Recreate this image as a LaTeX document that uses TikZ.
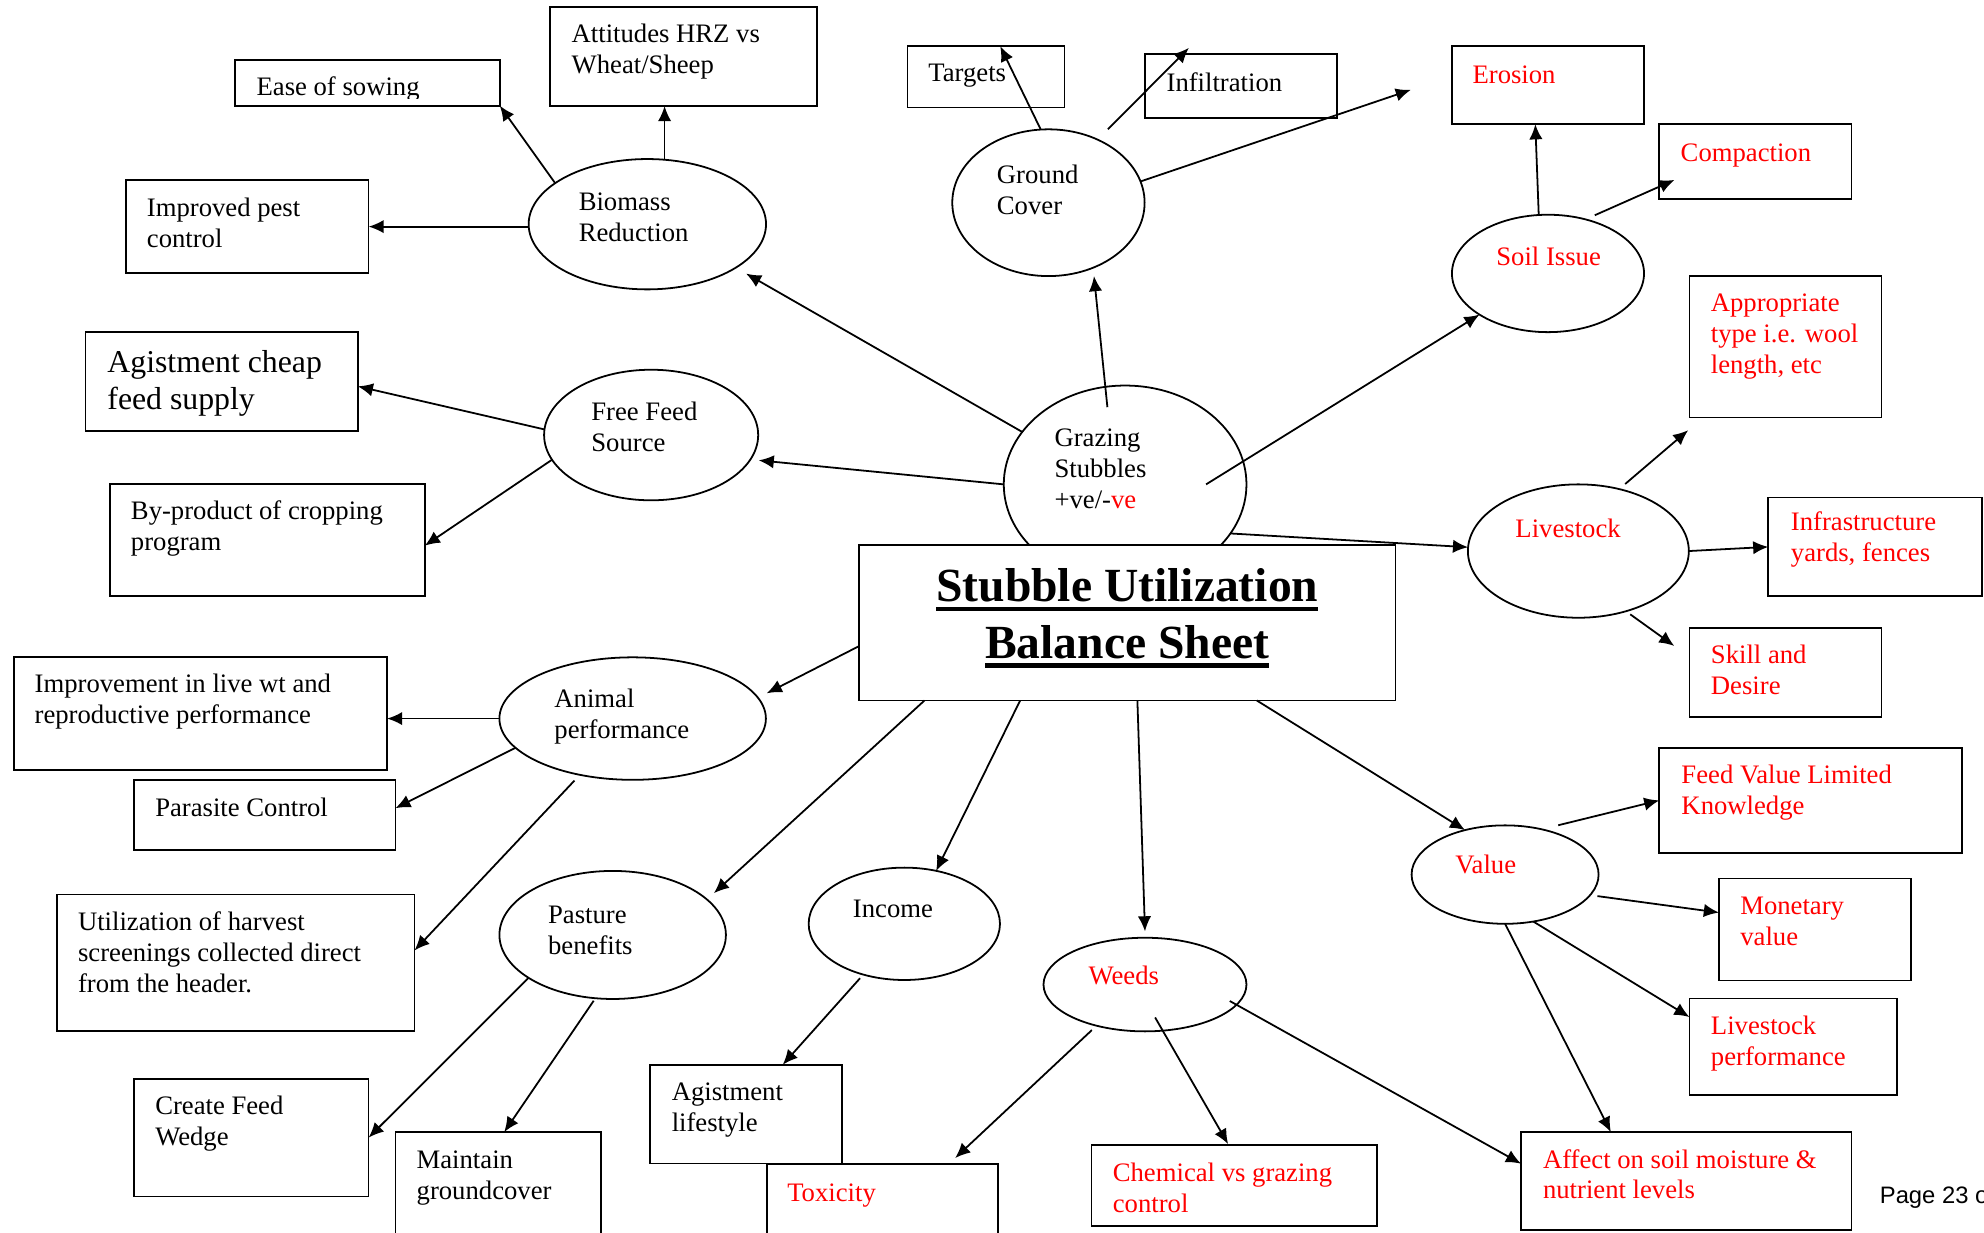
\documentclass[tikz,border=0pt]{standalone}
\usepackage{fontspec}
\setmainfont{Liberation Serif}
\newfontfamily\arial{Liberation Sans}
\usetikzlibrary{shapes.geometric,arrows.meta}
\newcommand{\subr}[1]{\setbox0=\hbox{#1}\rlap{\rule[-4.1pt]{\wd0}{2pt}}\box0}

\begin{document}
\begin{tikzpicture}[x=0.02cm, y=-0.02cm, line width=0.8pt,
	>={Latex[length=6.8pt,width=6pt]},
	caja/.style={draw, rectangle, anchor=north west, inner sep=0, outer sep=0},
	elipse/.style={draw, ellipse, inner sep=0, outer sep=0},
	txt/.style={anchor=north west, inner sep=0, align=left, font=\fontsize{12}{13.9}\selectfont, execute at begin node=\strut, yshift=9.73pt},
	txtg/.style={anchor=north west, inner sep=0, align=left, font=\fontsize{14.3}{16.5}\selectfont, execute at begin node=\strut, yshift=11.55pt},
	rojo/.style={text=red}]
	\def\unidad{0.02cm}
	\def\caja#1#2#3#4#5{\node[caja, minimum width={(#4-#2)*\unidad}, minimum height={(#5-#3)*\unidad}] (#1) at (#2,#3) {};}
	\def\elipse#1#2#3#4#5{\node[elipse, minimum width={2*#4*\unidad}, minimum height={2*#5*\unidad}] (#1) at (#2,#3) {};}
	
	\useasboundingbox (0,0) rectangle (1568,974);
	
	% Elipses
	\elipse{bio}{511.6}{177.2}{93.8}{51.5}
	\elipse{gc}{828.6}{160.2}{76}{58}
	\elipse{soil}{1223.4}{216.1}{75.9}{46.4}
	\elipse{ff}{514.6}{343.8}{84.6}{51.6}
	\elipse{graz}{889.2}{382.8}{95.9}{78.1}
	\elipse{live}{1247.4}{435.5}{87.3}{52.7}
	\elipse{animal}{500}{567.9}{105.3}{48.4}
	\elipse{value}{1189.5}{691.2}{73.9}{38.9}
	\elipse{pasture}{484.2}{738.9}{89.5}{50.6}
	\elipse{income}{714.7}{730.1}{75.6}{44.4}
	\elipse{weeds}{904.9}{778.1}{80.2}{37}
	
	% Cajas
	\caja{ease}{186}{47.5}{395}{83.5}
	\caja{att}{434.5}{5.3}{645.7}{83.8}
	\caja{targets}{717.2}{36.6}{841.3}{85}
	\caja{infil}{904.6}{42.8}{1056.9}{93.4}
	\caja{erosion}{1147.5}{36.6}{1299.3}{98.2}
	\caja{compact}{1311.4}{97.8}{1463.2}{157.2}
	\caja{pest}{99.3}{142.2}{291.3}{216}
	\caja{approp}{1335.2}{218.1}{1487}{330}
	\caja{agist}{67.5}{262.5}{282.8}{340.6}
	\caja{byprod}{86.7}{382.5}{335.7}{471.3}
	\caja{infra}{1397.5}{393.1}{1566.5}{471.3}
	\caja{skill}{1335.2}{496.5}{1487}{566.6}
	\caja{improv}{11.1}{519.4}{305.9}{608.3}
	\caja{parasite}{105.8}{616.6}{312.5}{671.7}
	\caja{feedval}{1311.4}{591.1}{1550.3}{674}
	\caja{monet}{1358.5}{694.3}{1510.3}{774.9}
	\caja{utiliz}{44.9}{707}{327.6}{815.1}
	\caja{lsperf}{1335.2}{789.2}{1499.2}{865.4}
	\caja{wedge}{105.8}{852.6}{291.3}{945.6}
	\caja{agistls}{513.6}{841.5}{665.3}{919.6}
	\caja{maintain}{312.5}{894.7}{474.8}{990}
	\caja{toxic}{605.9}{920.2}{788.8}{990}
	\caja{chem}{862.6}{905.2}{1088.3}{969}
	\caja{affect}{1202.1}{894.7}{1463.2}{971.8}
	\node[caja, fill=white, minimum width=424*\unidad, minimum height=123*\unidad] (title) at (678.9,430.6) {}; % Titulo
	
	% Textos
	\begin{scope}
		\clip (ease.north west) rectangle ([shift={(0,-6)}]ease.south east);
		\node[txt] (ease-t) at (202.1,75) {Ease of sowing};
	\end{scope}
	\node[txt] (att-t) at (451.1,32.8) {\strut Attitudes HRZ vs\\Wheat/Sheep};
	\node[txt] (targets-t) at (733,64) {Targets};
	\node[txt] (infil-t) at (921.3,71.3) {Infiltration};
	\node[txt, rojo] (erosion-t) at (1163.1,65.6) {Erosion};
	\node[txt, rojo] (compact-t) at (1327.6,126.6) {Compaction};
	\node[txt] (pest-t) at (115.4,170.3) {\strut Improved pest\\control};
	\node[txt] (bio-t) at (456.7,165.6) {\strut Biomass\\Reduction};
	\node[txt] (gc-t) at (787.2,144.4) {\strut Ground\\Cover};
	\node[txt, rojo] (soil-t) at (1181.9,208.8) {Soil Issue};
	\node[txt, rojo] (approp-t) at (1351.4,245.3) {\strut Appropriate\\type i.e. wool\\length, etc};
	\node[txtg] (agist-t) at (84.2,293.8) {\strut Agistment cheap\\feed supply};
	\node[txt] (ff-t) at (466.7,331.9) {\strut Free Feed\\Source};
	\node[txt] (byprod-t) at (102.8,410) {\strut By-product of cropping\\program};
	\node[txt] (graz-t) at (832.7,352.5) {\strut Grazing\\Stubbles\\+ve/-\textcolor{red}{ve}};
	\node[txt, rojo] (live-t) at (1197,424.4) {Livestock};
	\node[txt, rojo] (infra-t) at (1414.7,418.8) {\strut Infrastructure\\yards, fences};
	\node[anchor=north, inner sep=0, align=center, font=\fontsize{21.4}{25.6}\selectfont\bfseries, execute at begin node=\strut, yshift=17.92pt] (title-t) at (890.9,475) {\strut\subr{Stubble Utilization}\\\subr{Balance Sheet}};
	\node[txt, rojo] (skill-t) at (1351.5,523.6) {\strut Skill and\\Desire};
	\node[txt] (improv-t) at (26.7,546.8) {\strut Improvement in live wt and\\reproductive performance};
	\node[txt] (animal-t) at (437.5,558.6) {\strut Animal\\performance};
	\node[txt] (parasite-t) at (122,644.6) {Parasite Control};
	\node[txt, rojo] (feedval-t) at (1328.2,618.2) {\strut Feed Value Limited\\Knowledge};
	\node[txt, rojo] (value-t) at (1149.5,689.9) {Value};
	\node[txt] (utiliz-t) at (61,734.8) {\strut Utilization of harvest\\screenings collected direct\\from the header.};
	\node[txt] (pasture-t) at (432.5,729.1) {\strut Pasture\\benefits};
	\node[txt] (income-t) at (673.4,724.3) {Income};
	\node[txt, rojo] (monet-t) at (1374.7,722) {\strut Monetary\\value};
	\node[txt, rojo] (weeds-t) at (859.6,777.5) {Weeds};
	\node[txt, rojo] (lsperf-t) at (1351.5,816.6) {\strut Livestock\\performance};
	\node[txt] (wedge-t) at (122,880.3) {\strut Create Feed\\Wedge};
	\node[txt] (agistls-t) at (530.2,869.2) {\strut Agistment\\lifestyle};
	\node[txt] (maintain-t) at (328.6,922.7) {\strut Maintain\\groundcover};
	\node[txt, rojo] (toxic-t) at (621.5,948.8) {Toxicity};
	\node[txt, rojo] (chem-t) at (878.8,932.9) {\strut Chemical vs grazing\\control};
	\node[txt, rojo] (affect-t) at (1218.8,922.4) {\strut Affect on soil moisture \&\\nutrient levels};
	\node[anchor=base west, inner sep=0, font=\fontsize{10.7}{12}\selectfont\arial] (pagina) at (1485,951) {Page 23 o};
	
	% Flechas
	\coordinate (gc-fin) at (1115,71);
	\draw[->] (bio.156) -- (ease.south east);
	\draw[->] (bio.75) -- (bio.75 |- att.south);
	\draw[->] (bio.west |- pest.east) -- (pest.east);
	\draw[->] (graz.153) -- ([shift={(78,39)}]bio.center);
	\draw[->] (ff.177) -- (agist.-2);
	\draw[->] (ff.194) -- (byprod.-2);
	\draw[->] (graz.west) -- ([shift={(85,20)}]ff.center);
	\draw[->] ([shift={(-14,-61)}]graz.center) -- ([shift={(36,58)}]gc.center);
	\draw[->] (gc.96) -- (targets.65);
	\draw[->] ([shift={(47,-58)}]gc.center) -- ([shift={(35,-5)}]infil.north west);
	\draw[->] (gc.13) -- (gc-fin);
	\draw[->] (soil.99) -- (erosion.252);
	\draw[->] ([shift={(37,-46)}]soil.center) -- ([shift={(12,-15)}]compact.south west);
	\draw[->] ([shift={(64,0)}]graz.center) -- (soil.211);
	\draw[->] ([shift={(37,-53)}]live.center) -- ([shift={(-1,10)}]approp.south west);
	\draw[->] (live.east) -- (infra.west);
	\draw[->] ([shift={(41,50)}]live.center) -- ([shift={(-12,14)}]skill.north west);
	\draw[->] (graz.-25) -- (live.178);
	\draw[->] (title.185) -- ([shift={(106,-20)}]animal.center);
	\draw[->] (animal.west) -- (animal.west -| improv.east);
	\draw[->] (animal.194) -- (parasite.3);
	\draw[->] ([shift={(-46,49)}]animal.center) -- (utiliz.4);
	\draw[->] (title.201) -- ([shift={(80,-33)}]pasture.center);
	\draw[->] (title.216) -- (income.59);
	\draw[->] ([shift={(8,0)}]title.south) -- ([shift={(0,-5)}]weeds.north);
	\draw[->] (title.-31) -- (value.132);
	\draw[->] (pasture.207) -- (wedge.east);
	\draw[->] ([shift={(-15,52)}]pasture.center) -- ([shift={(86,0)}]maintain.north west);
	\draw[->] ([shift={(-35,43)}]income.center) -- ([shift={(105,0)}]agistls.north west);
	\draw[->] ([shift={(-42,36)}]weeds.center) -- ([shift={(149,-5)}]toxic.north west);
	\draw[->] ([shift={(8,26)}]weeds.center) -- ([shift={(108,-1)}]chem.north west);
	\draw[->] ([shift={(67,13)}]weeds.center) -- ([shift={(0,25)}]affect.north west);
	\draw[->] ([shift={(42,-39)}]value.center) -- (feedval.west);
	\draw[->] ([shift={(73,17)}]value.center) -- (monet.170);
	\draw[->] (value.-59) -- (lsperf.164);
	\draw[->] (value.south) -- ([shift={(71,0)}]affect.north west);
\end{tikzpicture}
\end{document}
